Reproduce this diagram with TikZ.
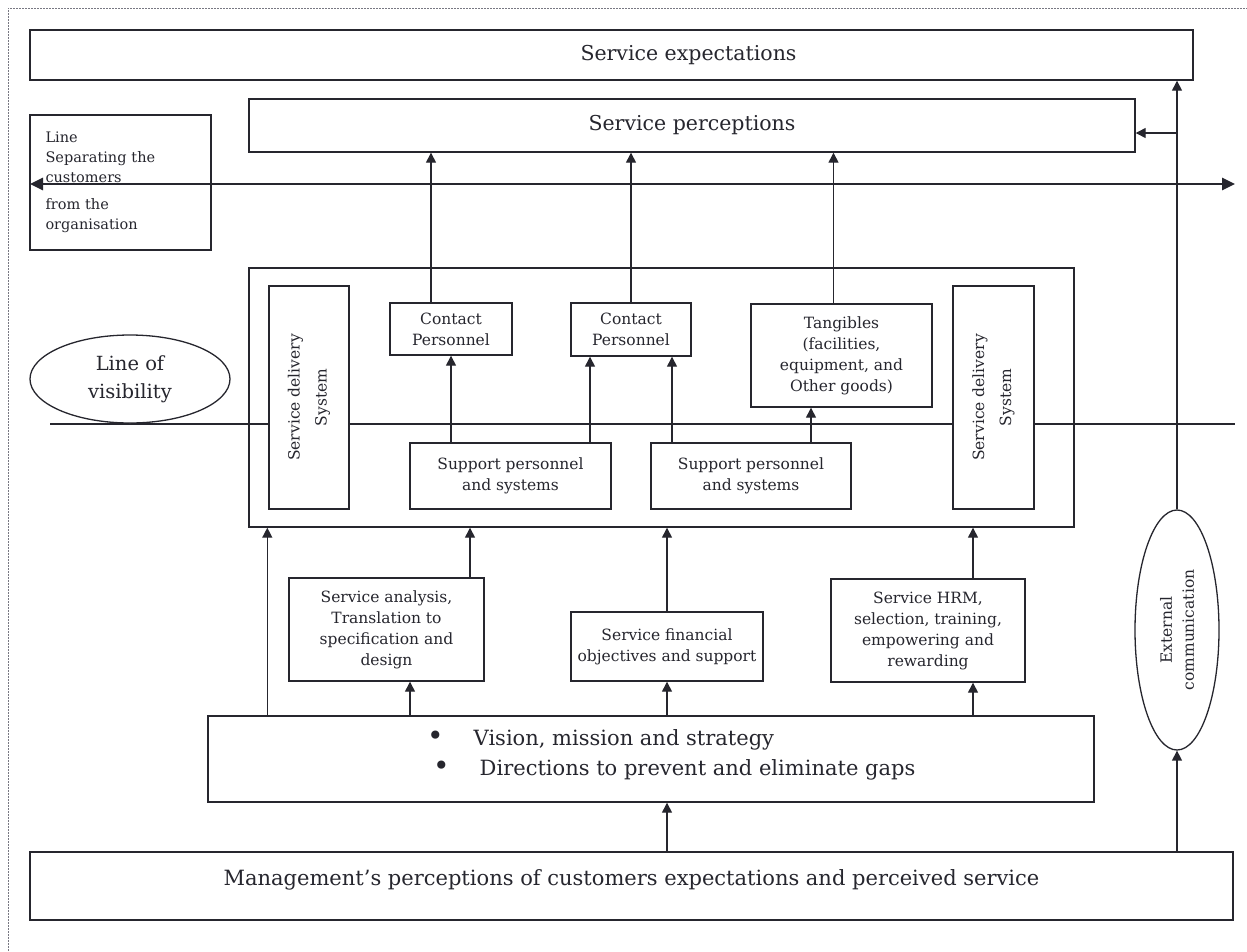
\documentclass[tikz,border=0pt]{standalone}
\usepackage{fontspec}
\setmainfont{DejaVu Serif}
\usepackage{tikz}
\usetikzlibrary{arrows.meta,shapes.geometric,backgrounds}
\definecolor{inkgray}{RGB}{38,38,46}
\definecolor{framegray}{RGB}{120,120,130}
\tikzset{
  bigbox/.style={rectangle,draw=inkgray,line width=1.4pt,fill=white,inner sep=0pt,text=inkgray,font=\fontsize{20.5}{24}\selectfont},
  midbox/.style={rectangle,draw=inkgray,line width=1.4pt,fill=white,inner sep=0pt,align=center,text=inkgray,font=\fontsize{15.5}{21}\selectfont},
  lowbox/.style={midbox,font=\fontsize{15.5}{21}\selectfont},
  sdsbox/.style={midbox,rotate=90,font=\fontsize{15.5}{27}\selectfont},
  sepbox/.style={midbox,align=left,inner xsep=15pt,text width=150pt,font=\fontsize{14.5}{20}\selectfont},
  ovalnode/.style={ellipse,draw=inkgray,line width=1.3pt,fill=white,inner sep=0pt,align=center,text=inkgray},
  framebox/.style={rectangle,draw=inkgray,line width=1.4pt,inner sep=0pt},
  listtext/.style={align=left,inner sep=0pt,text=inkgray,font=\fontsize{21}{30}\selectfont},
  flowarrow/.style={-{Triangle[length=10pt,width=10pt]},line width=1.4pt,draw=inkgray},
  sepline/.style={{Triangle[length=13pt,width=12pt]}-{Triangle[length=13pt,width=12pt]},line width=2.6pt,draw=inkgray},
  visline/.style={line width=1.3pt,draw=inkgray}
}
\newcommand{\bigdot}{{\fontsize{28}{28}\selectfont\textbullet}}

\begin{document}
\begin{tikzpicture}[x=1pt,y=-1pt]
  \useasboundingbox (0,0) rectangle (1247,951);
  \draw[framegray,line width=0.8pt,dash pattern=on 2pt off 1pt] (8,951) -- (8,8) -- (1247,8);
  % customer side
  \node[bigbox,minimum width=1163pt,minimum height=50pt] (expect) at (611.5,55) {\hspace*{154pt}Service expectations};
  \node[bigbox,minimum width=886pt,minimum height=53pt] (percep) at (692,125.5) {Service perceptions};
  \node[sepbox,minimum width=181pt,minimum height=135pt] (sepnote) at (120.5,182.5)
    {Line\\Separating the\\customers\\[7pt]from the\\organisation};
  \node[ovalnode,minimum width=200pt,minimum height=88pt,font=\fontsize{19.5}{28}\selectfont] (lovnote) at (130,379) {Line of\\visibility};
  % service delivery system
  \node[framebox,minimum width=825pt,minimum height=259pt] (sds) at (661.5,397.5) {};
  \node[sdsbox,minimum width=223pt,minimum height=80pt] (sdsl) at (309,397.5) {Service delivery\\System};
  \node[sdsbox,minimum width=223pt,minimum height=81pt] (sdsr) at (993.5,397.5) {Service delivery\\System};
  \node[midbox,minimum width=122pt,minimum height=52pt] (cp1) at (451,329) {Contact\\Personnel};
  \node[midbox,minimum width=120pt,minimum height=53pt] (cp2) at (631,329.5) {Contact\\Personnel};
  \node[midbox,minimum width=181pt,minimum height=103pt] (tang) at (841.5,355.5) {Tangibles\\(facilities,\\equipment, and\\Other goods)};
  \node[midbox,minimum width=201pt,minimum height=66pt] (sup1) at (510.5,476) {Support personnel\\and systems};
  \node[midbox,minimum width=200pt,minimum height=66pt] (sup2) at (751,476) {Support personnel\\and systems};
  % management side
  \node[lowbox,minimum width=195pt,minimum height=103pt] (analysis) at (386.5,629.5) {Service analysis,\\Translation to\\specification and\\design};
  \node[lowbox,minimum width=192pt,minimum height=69pt] (finance) at (667,646.5) {Service financial\\objectives and support};
  \node[lowbox,minimum width=194pt,minimum height=103pt] (hrm) at (928,630.5) {Service HRM,\\selection, training,\\empowering and\\rewarding};
  \node[bigbox,minimum width=886pt,minimum height=86pt] (vision) at (651,759) {};
  \node[listtext,anchor=west] (visionlist) at (427,755)
    {\bigdot\hspace{30pt}Vision, mission and strategy\\\hspace*{6pt}\bigdot\hspace{30pt}Directions to prevent and eliminate gaps};
  \node[bigbox,minimum width=1203pt,minimum height=68pt,font=\fontsize{21}{24}\selectfont,text height=15pt,text depth=16.5pt] (mgmt) at (631.5,886)
    {Management's perceptions of customers expectations and perceived service};
  \node[ovalnode,rotate=90,minimum width=240pt,minimum height=84pt,font=\fontsize{15.5}{22}\selectfont] (extcom) at (1177,630) {External\\communication};
  % the two lines
  \coordinate (sepwest) at (30,184);
  \coordinate (sepeast) at (1235,184);
  \draw[sepline] (sepwest) -- (sepeast);
  \begin{scope}[on background layer]
    \coordinate (viswest) at (50,424);
    \coordinate (viseast) at (1235,424);
    \draw[visline] (viswest) -- (viseast);
  \end{scope}
  % upward links
  \coordinate (cp1up) at ([xshift=-20pt]cp1.north);
  \coordinate (tangup) at ([xshift=-8pt]tang.north);
  \draw[flowarrow] (cp1up) -- (cp1up |- percep.south);
  \draw[flowarrow] (cp2.north) -- (cp2.north |- percep.south);
  \draw[flowarrow] (tangup) -- (tangup |- percep.south);
  \coordinate (cp2inl) at ([xshift=-41pt]cp2.south);
  \coordinate (cp2inr) at ([xshift=41pt]cp2.south);
  \coordinate (tangin) at ([xshift=-30.5pt]tang.south);
  \draw[flowarrow] (sup1.north -| cp1.south) -- (cp1.south);
  \draw[flowarrow] (sup1.north -| cp2inl) -- (cp2inl);
  \draw[flowarrow] (sup2.north -| cp2inr) -- (cp2inr);
  \draw[flowarrow] (sup2.north -| tangin) -- (tangin);
  % from management
  \coordinate (sdsinl) at ([xshift=19pt]sds.south west);
  \coordinate (analysisout) at ([xshift=83.5pt]analysis.north);
  \coordinate (analysisin) at ([xshift=23.5pt]analysis.south);
  \coordinate (hrmin) at ([xshift=45pt]hrm.south);
  \coordinate (hrmout) at ([xshift=45pt]hrm.north);
  \draw[flowarrow] (vision.north -| sdsinl) -- (sdsinl);
  \draw[flowarrow] (vision.north -| analysisin) -- (analysisin);
  \draw[flowarrow] (vision.north -| finance.south) -- (finance.south);
  \draw[flowarrow] (vision.north -| hrmin) -- (hrmin);
  \draw[flowarrow] (analysisout) -- (analysisout |- sds.south);
  \draw[flowarrow] (finance.north) -- (finance.north |- sds.south);
  \draw[flowarrow] (hrmout) -- (hrmout |- sds.south);
  \draw[flowarrow] (mgmt.north -| finance.south) -- (vision.south -| finance.south);
  % external communication
  \draw[flowarrow] (mgmt.north -| extcom.west) -- (extcom.west);
  \draw[flowarrow] (extcom.east) -- (extcom.east |- expect.south);
  \coordinate (extbranch) at (1177,133);
  \draw[flowarrow] (extbranch) -- (extbranch -| percep.east);
\end{tikzpicture}
\end{document}
